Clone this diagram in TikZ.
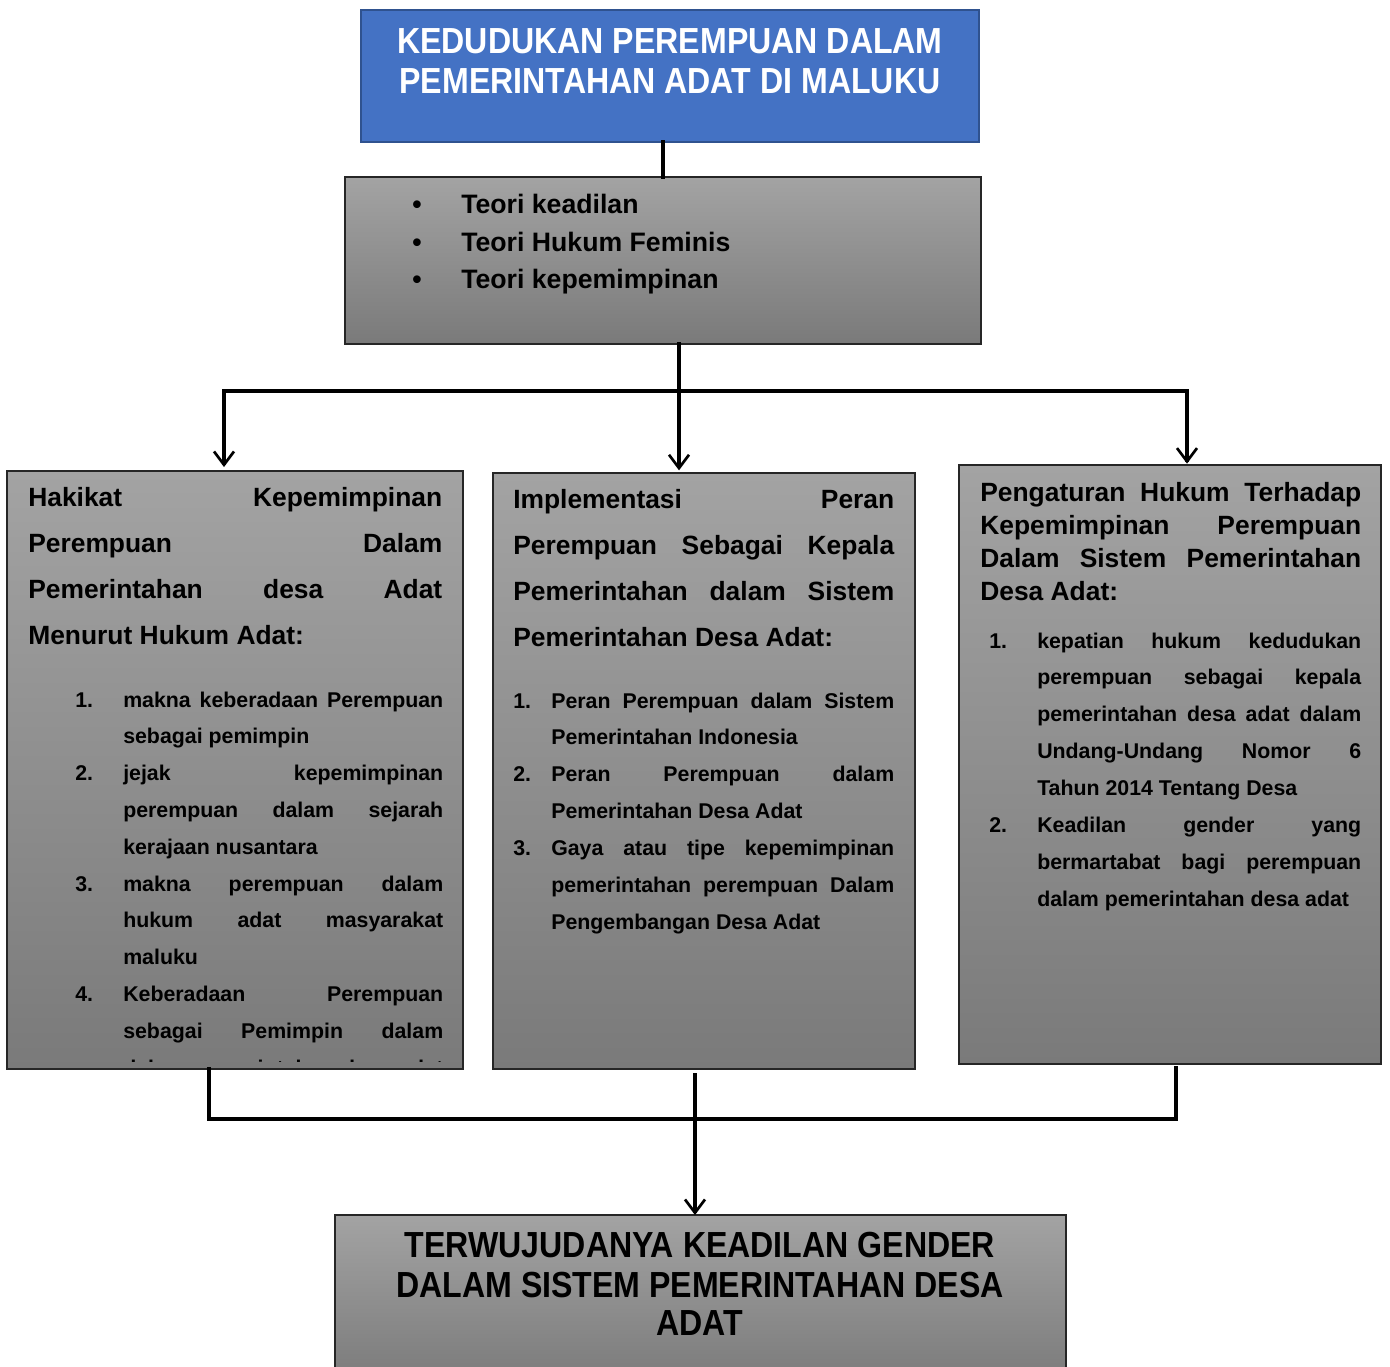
\documentclass[tikz,border=0pt]{standalone}
\usepackage{fontspec}
\setmainfont{Liberation Sans}
\newfontfamily\narrowsans[FakeStretch=0.885]{Liberation Sans}
\usetikzlibrary{arrows.meta}
\newdimen\px \px=0.75pt
\definecolor{titleblue}{HTML}{4472C4}
\definecolor{titleedge}{HTML}{2F528F}
\definecolor{gtop}{HTML}{A3A3A3}
\definecolor{gbot}{HTML}{7A7A7A}
\newcommand{\jl}[2]{\makebox[#1\px][s]{#2}}
\tikzset{
  graybox/.style={draw=black!85, line width=1.1pt, top color=gtop, bottom color=gbot,
    inner sep=0pt, outer sep=0pt, anchor=north west},
  bluebox/.style={draw=titleedge, line width=1.3pt, fill=titleblue,
    inner sep=0pt, outer sep=0pt, anchor=north west},
  conn/.style={line width=2.4pt, black, line cap=rect},
  arr/.style={conn, -{Straight Barb[length=10pt,width=15pt,line width=2pt]}},
  head/.style={anchor=base west, inner sep=0pt, font=\bfseries\fontsize{19.8pt}{23pt}\selectfont},
  lst/.style={anchor=base west, inner sep=0pt, font=\bfseries\fontsize{16pt}{19pt}\selectfont},
  theory/.style={anchor=base west, inner sep=0pt, font=\bfseries\fontsize{20pt}{24pt}\selectfont},
  bigtxt/.style={anchor=base, inner sep=0pt, font=\narrowsans\bfseries\fontsize{27.2pt}{32pt}\selectfont},
}
\begin{document}
\begin{tikzpicture}[x=0.75pt,y=-0.75pt]
\clip (0,0) rectangle (1390,1367);
\fill[white] (0,0) rectangle (1390,1367);

% boxes
\node[bluebox, minimum width=618\px, minimum height=132\px] (T) at (361,10) {};
\node[graybox, line width=1.4pt, minimum width=636\px, minimum height=167\px] (R) at (345,177) {};
\node[graybox, minimum width=456\px, minimum height=598\px] (L) at (7,471) {};
\node[graybox, minimum width=422\px, minimum height=596\px] (M) at (493,473) {};
\node[graybox, minimum width=422\px, minimum height=599\px] (Q) at (959,465) {};
\node[graybox, minimum width=731\px, minimum height=170\px] (B) at (335,1215) {};

% connectors
\coordinate (jn) at (679,391);
\coordinate (la) at (224,391);
\coordinate (ra) at (1187,391);
\coordinate (bl) at (209,1119);
\coordinate (br) at (1176,1119);
\coordinate (bm) at (695,1119);
\draw[conn] (R.north) -- (R.north |- T.south);
\draw[arr] (R.south -| jn) -- ([yshift=2pt]M.north -| jn);
\draw[conn] (la) -- (ra);
\draw[arr] (la) -- ([yshift=3pt]L.north -| la);
\draw[arr] (ra) -- ([yshift=1pt]Q.north -| ra);
\draw[conn, line join=miter] (L.south -| bl) -- (bl) -- (br) -- ([yshift=-3pt]Q.south -| br);
\draw[arr] ([yshift=-4pt]M.south -| bm) -- (B.north -| bm);

% title
\node[bigtxt, text=white] (t1) at (670,53) {KEDUDUKAN PEREMPUAN DALAM};
\node[bigtxt, text=white] (t2) at (670,93) {PEMERINTAHAN ADAT DI MALUKU};

% theory
\node[theory] (b1) at (412,213) {\textbullet};
\node[theory] (b2) at (412,251) {\textbullet};
\node[theory] (b3) at (412,288) {\textbullet};
\node[theory] (r1) at (461,213) {Teori keadilan};
\node[theory] (r2) at (461,251) {Teori Hukum Feminis};
\node[theory] (r3) at (461,288) {Teori kepemimpinan};

% left box
\node[head] (lh1) at (28,506) {\jl{414}{Hakikat Kepemimpinan}};
\node[head] (lh2) at (28,552) {\jl{414}{Perempuan Dalam}};
\node[head] (lh3) at (28,598) {\jl{414}{Pemerintahan desa Adat}};
\node[head] (lh4) at (28,644) {Menurut Hukum Adat:};
\node[lst] (ln1) at (75,707) {1.};
\node[lst] (ln2) at (75,780.6) {2.};
\node[lst] (ln3) at (75,891) {3.};
\node[lst] (ln4) at (75,1001.4) {4.};
\node[lst] (la0) at (123,707) {\jl{320}{makna keberadaan Perempuan}};
\node[lst] (la1) at (123,743.8) {sebagai pemimpin};
\node[lst] (la2) at (123,780.6) {\jl{320}{jejak kepemimpinan}};
\node[lst] (la3) at (123,817.4) {\jl{320}{perempuan dalam sejarah}};
\node[lst] (la4) at (123,854.2) {kerajaan nusantara};
\node[lst] (la5) at (123,891) {\jl{320}{makna perempuan dalam}};
\node[lst] (la6) at (123,927.8) {\jl{320}{hukum adat masyarakat}};
\node[lst] (la7) at (123,964.6) {maluku};
\node[lst] (la8) at (123,1001.4) {\jl{320}{Keberadaan Perempuan}};
\node[lst] (la9) at (123,1038.2) {\jl{320}{sebagai Pemimpin dalam}};
\begin{scope}
\clip (8,472) rectangle (462,1061.5);
\node[lst] (la10) at (123,1075) {\jl{320}{dalam pemerintahan desa adat}};
\end{scope}

% middle box
\node[head] (mh1) at (513,508) {\jl{381}{Implementasi Peran}};
\node[head] (mh2) at (513,554) {\jl{381}{Perempuan Sebagai Kepala}};
\node[head] (mh3) at (513,600) {\jl{381}{Pemerintahan dalam Sistem}};
\node[head] (mh4) at (513,646) {Pemerintahan Desa Adat:};
\node[lst] (mn1) at (513,708) {1.};
\node[lst] (mn2) at (513,781.8) {2.};
\node[lst] (mn3) at (513,855.6) {3.};
\node[lst] (ma0) at (551,708) {\jl{343}{Peran Perempuan dalam Sistem}};
\node[lst] (ma1) at (551,744.9) {Pemerintahan Indonesia};
\node[lst] (ma2) at (551,781.8) {\jl{343}{Peran Perempuan dalam}};
\node[lst] (ma3) at (551,818.7) {Pemerintahan Desa Adat};
\node[lst] (ma4) at (551,855.6) {\jl{343}{Gaya atau tipe kepemimpinan}};
\node[lst] (ma5) at (551,892.5) {\jl{343}{pemerintahan perempuan Dalam}};
\node[lst] (ma6) at (551,929.4) {Pengembangan Desa Adat};

% right box
\node[head] (qh1) at (980,501) {\jl{381}{Pengaturan Hukum Terhadap}};
\node[head] (qh2) at (980,534) {\jl{381}{Kepemimpinan Perempuan}};
\node[head] (qh3) at (980,567) {\jl{381}{Dalam Sistem Pemerintahan}};
\node[head] (qh4) at (980,600) {Desa Adat:};
\node[lst] (qn1) at (989,648) {1.};
\node[lst] (qn2) at (989,832.5) {2.};
\node[lst] (qa0) at (1037,648) {\jl{324}{kepatian hukum kedudukan}};
\node[lst] (qa1) at (1037,684.9) {\jl{324}{perempuan sebagai kepala}};
\node[lst] (qa2) at (1037,721.8) {\jl{324}{pemerintahan desa adat dalam}};
\node[lst] (qa3) at (1037,758.7) {\jl{324}{Undang-Undang Nomor 6}};
\node[lst] (qa4) at (1037,795.6) {Tahun 2014 Tentang Desa};
\node[lst] (qa5) at (1037,832.5) {\jl{324}{Keadilan gender yang}};
\node[lst] (qa6) at (1037,869.4) {\jl{324}{bermartabat bagi perempuan}};
\node[lst] (qa7) at (1037,906.3) {dalam pemerintahan desa adat};

% bottom box
\node[bigtxt] (e1) at (700,1257) {TERWUJUDANYA KEADILAN GENDER};
\node[bigtxt] (e2) at (700,1297) {DALAM SISTEM PEMERINTAHAN DESA};
\node[bigtxt] (e3) at (700,1335) {ADAT};
\end{tikzpicture}
\end{document}
